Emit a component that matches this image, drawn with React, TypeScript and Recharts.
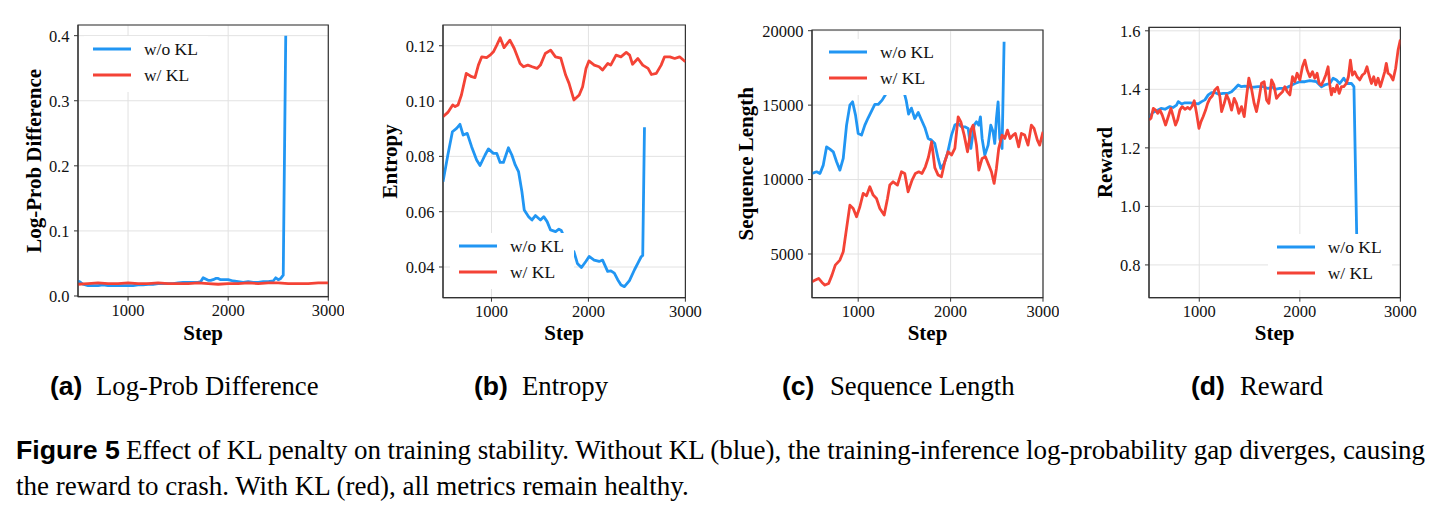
import React from 'react';
import {
  LineChart,
  Line,
  XAxis,
  YAxis,
  CartesianGrid,
  Legend,
  ReferenceArea,
  Label,
} from 'recharts';

const BLUE = '#2196F3';
const RED = '#F44336';
const SERIF = "'Liberation Serif', 'Times New Roman', serif";
const SANS = "'Liberation Sans', Arial, Helvetica, sans-serif";

const seriesNames = ['w/o KL', 'w/ KL'];
const stepTicks = [1000, 2000, 3000];
const stepLabel = 'Step';

// ---- (a) Log-Prob Difference ----
const lpdNoKlSteps = [500, 525, 550, 575, 600, 650, 700, 750, 800, 850, 900, 950, 1000, 1050, 1100, 1150, 1200, 1250, 1300, 1350, 1400, 1450, 1500, 1550, 1600, 1650, 1700, 1725, 1750, 1775, 1800, 1825, 1850, 1875, 1900, 1925, 1950, 2000, 2050, 2100, 2150, 2200, 2250, 2300, 2350, 2400, 2450, 2475, 2500, 2525, 2550, 2575];
const lpdNoKlValues = [0.023, 0.021, 0.018, 0.017, 0.016, 0.016, 0.016, 0.017, 0.016, 0.016, 0.016, 0.016, 0.016, 0.016, 0.017, 0.017, 0.018, 0.018, 0.019, 0.019, 0.019, 0.019, 0.020, 0.021, 0.021, 0.021, 0.021, 0.022, 0.028, 0.026, 0.024, 0.024, 0.025, 0.027, 0.027, 0.025, 0.025, 0.025, 0.023, 0.022, 0.021, 0.022, 0.021, 0.021, 0.022, 0.022, 0.023, 0.028, 0.025, 0.027, 0.032, 0.4];
const lpdKlSteps = [500, 600, 700, 800, 900, 1000, 1100, 1200, 1300, 1400, 1500, 1600, 1700, 1800, 1900, 2000, 2100, 2200, 2300, 2400, 2500, 2600, 2700, 2800, 2900, 3000];
const lpdKlValues = [0.018, 0.019, 0.020, 0.019, 0.019, 0.020, 0.019, 0.019, 0.020, 0.019, 0.019, 0.019, 0.020, 0.019, 0.018, 0.019, 0.019, 0.020, 0.019, 0.020, 0.020, 0.019, 0.019, 0.019, 0.020, 0.020];
const lpdTicks = [0, 0.1, 0.2, 0.3, 0.4];

// ---- (b) Entropy ----
const entNoKlSteps = [500, 550, 597, 640, 675, 708, 750, 795, 847, 882, 934, 968, 1020, 1054, 1089, 1123, 1175, 1210, 1245, 1279, 1314, 1338, 1383, 1418, 1453, 1505, 1539, 1574, 1609, 1661, 1695, 1720, 1760, 1800, 1830, 1851, 1886, 1928, 1973, 2007, 2059, 2111, 2146, 2198, 2232, 2267, 2302, 2336, 2371, 2423, 2475, 2509, 2544, 2560, 2578];
const entNoKlValues = [0.0708, 0.0805, 0.0889, 0.0901, 0.0916, 0.0877, 0.0883, 0.0835, 0.0787, 0.0767, 0.0805, 0.0827, 0.0811, 0.0811, 0.0778, 0.0778, 0.0831, 0.0805, 0.0769, 0.0745, 0.0672, 0.0606, 0.0582, 0.057, 0.0586, 0.057, 0.0582, 0.0564, 0.0534, 0.0528, 0.0537, 0.0532, 0.050, 0.048, 0.046, 0.0455, 0.0413, 0.0398, 0.042, 0.0438, 0.0425, 0.042, 0.0425, 0.0384, 0.0386, 0.0378, 0.0354, 0.0335, 0.0329, 0.0351, 0.039, 0.0413, 0.0437, 0.0442, 0.0905];
const entKlSteps = [500, 550, 600, 625, 655, 690, 740, 795, 830, 865, 900, 950, 985, 1020, 1055, 1090, 1130, 1190, 1235, 1295, 1330, 1375, 1420, 1470, 1505, 1555, 1610, 1660, 1715, 1765, 1800, 1850, 1905, 1940, 1975, 2005, 2060, 2110, 2145, 2200, 2230, 2285, 2335, 2390, 2425, 2455, 2510, 2560, 2615, 2650, 2700, 2750, 2785, 2840, 2890, 2940, 3000];
const entKlValues = [0.0943, 0.0959, 0.0986, 0.098, 0.0986, 0.1022, 0.110, 0.1088, 0.1085, 0.113, 0.116, 0.1157, 0.1166, 0.1178, 0.1202, 0.1229, 0.1193, 0.122, 0.119, 0.1136, 0.1124, 0.113, 0.1124, 0.1118, 0.113, 0.1172, 0.1184, 0.116, 0.1155, 0.1094, 0.1064, 0.1004, 0.1022, 0.1052, 0.1118, 0.1145, 0.113, 0.1124, 0.1112, 0.1136, 0.113, 0.1166, 0.116, 0.1176, 0.1166, 0.1133, 0.1154, 0.113, 0.1118, 0.1096, 0.110, 0.113, 0.116, 0.116, 0.1154, 0.116, 0.1142];
const entTicks = [0.04, 0.06, 0.08, 0.1, 0.12];

// ---- (c) Sequence Length ----
const lenNoKlSteps = [500, 550, 586, 622, 658, 694, 730, 766, 802, 838, 874, 910, 939, 971, 1000, 1036, 1072, 1108, 1144, 1180, 1216, 1259, 1288, 1330, 1380, 1420, 1460, 1495, 1520, 1545, 1576, 1612, 1650, 1685, 1721, 1757, 1793, 1829, 1865, 1894, 1930, 1966, 2010, 2046, 2082, 2118, 2154, 2190, 2219, 2255, 2280, 2305, 2323, 2341, 2370, 2406, 2435, 2460, 2478, 2496, 2514, 2532, 2557, 2579];
const lenNoKlValues = [10410, 10522, 10410, 10970, 12200, 12045, 11865, 11200, 10634, 11418, 13657, 15000, 15224, 14328, 13097, 12985, 13657, 14150, 14597, 15045, 15045, 15336, 15627, 16100, 16500, 16400, 16300, 15900, 15300, 14400, 14800, 14100, 14500, 14000, 13500, 12761, 12649, 12425, 11418, 10746, 11082, 11753, 12985, 13657, 13769, 13545, 13545, 13433, 12089, 13657, 13880, 13657, 14216, 12761, 11642, 12313, 13657, 13209, 12425, 14104, 15224, 12761, 12089, 19254];
const lenKlSteps = [500, 536, 572, 608, 640, 680, 716, 752, 802, 838, 874, 910, 946, 982, 1018, 1054, 1090, 1126, 1162, 1198, 1234, 1281, 1317, 1342, 1378, 1425, 1468, 1504, 1540, 1583, 1619, 1655, 1691, 1727, 1760, 1795, 1829, 1865, 1901, 1937, 1973, 2010, 2046, 2082, 2111, 2147, 2183, 2219, 2244, 2280, 2305, 2341, 2377, 2413, 2442, 2471, 2496, 2521, 2557, 2586, 2615, 2644, 2676, 2701, 2737, 2766, 2802, 2838, 2874, 2903, 2939, 2964, 3000];
const lenKlValues = [3134, 3246, 3358, 3090, 2910, 3022, 3581, 4254, 4590, 5150, 6717, 8283, 8059, 7500, 8171, 9067, 8910, 9515, 8955, 8731, 8059, 7612, 8731, 9627, 9850, 9627, 10522, 10410, 9179, 9962, 10410, 10522, 10410, 10858, 11500, 12537, 10800, 10298, 10186, 11194, 11865, 11642, 12089, 14216, 13880, 12985, 11865, 13321, 13657, 12313, 10634, 11418, 11530, 10970, 10522, 9739, 10746, 12089, 12985, 12761, 13321, 12761, 12985, 13097, 12201, 13097, 12985, 12313, 13657, 13433, 12649, 12313, 13209];
const lenTicks = [5000, 10000, 15000, 20000];

// ---- (d) Reward ----
const rewNoKlSteps = [500, 533, 576, 619, 659, 708, 741, 774, 791, 824, 857, 907, 956, 990, 1023, 1056, 1089, 1122, 1155, 1188, 1238, 1281, 1321, 1354, 1387, 1420, 1453, 1519, 1586, 1635, 1685, 1735, 1752, 1801, 1851, 1901, 1950, 2000, 2050, 2099, 2165, 2215, 2248, 2298, 2331, 2364, 2397, 2437, 2470, 2513, 2538, 2575];
const rewNoKlValues = [1.297, 1.32, 1.327, 1.335, 1.332, 1.341, 1.338, 1.346, 1.358, 1.35, 1.354, 1.354, 1.352, 1.35, 1.358, 1.364, 1.381, 1.389, 1.389, 1.384, 1.386, 1.386, 1.392, 1.403, 1.415, 1.409, 1.411, 1.407, 1.409, 1.409, 1.403, 1.408, 1.4, 1.403, 1.403, 1.411, 1.42, 1.426, 1.426, 1.43, 1.426, 1.409, 1.415, 1.42, 1.438, 1.432, 1.42, 1.438, 1.42, 1.42, 1.409, 0.73];
const rewKlSteps = [500, 520, 543, 566, 586, 609, 632, 665, 692, 718, 741, 764, 784, 807, 830, 857, 884, 907, 930, 950, 973, 997, 1016, 1039, 1063, 1083, 1106, 1129, 1155, 1182, 1205, 1222, 1248, 1271, 1294, 1321, 1347, 1370, 1394, 1420, 1447, 1470, 1493, 1519, 1546, 1569, 1592, 1619, 1645, 1669, 1692, 1719, 1742, 1768, 1795, 1828, 1851, 1874, 1901, 1927, 1950, 1973, 2000, 2026, 2050, 2073, 2099, 2126, 2149, 2172, 2192, 2215, 2238, 2258, 2281, 2298, 2314, 2331, 2348, 2371, 2391, 2414, 2437, 2463, 2483, 2503, 2523, 2546, 2569, 2596, 2622, 2645, 2668, 2688, 2712, 2735, 2755, 2778, 2801, 2821, 2844, 2860, 2877, 2900, 2927, 2953, 2977, 3000];
const rewKlValues = [1.295, 1.301, 1.335, 1.329, 1.318, 1.329, 1.312, 1.278, 1.307, 1.335, 1.307, 1.278, 1.295, 1.329, 1.341, 1.332, 1.338, 1.332, 1.343, 1.361, 1.318, 1.267, 1.289, 1.307, 1.329, 1.352, 1.369, 1.377, 1.398, 1.407, 1.375, 1.324, 1.352, 1.381, 1.364, 1.329, 1.369, 1.352, 1.318, 1.341, 1.307, 1.375, 1.438, 1.403, 1.352, 1.324, 1.364, 1.421, 1.426, 1.364, 1.352, 1.432, 1.415, 1.369, 1.381, 1.392, 1.409, 1.392, 1.381, 1.443, 1.426, 1.455, 1.432, 1.477, 1.5, 1.466, 1.443, 1.46, 1.438, 1.455, 1.42, 1.415, 1.432, 1.449, 1.477, 1.415, 1.381, 1.403, 1.392, 1.415, 1.386, 1.409, 1.409, 1.42, 1.443, 1.5, 1.449, 1.46, 1.443, 1.432, 1.449, 1.455, 1.477, 1.449, 1.42, 1.443, 1.415, 1.438, 1.409, 1.432, 1.46, 1.489, 1.455, 1.449, 1.432, 1.472, 1.534, 1.57];
const rewTicks = [0.8, 1.0, 1.2, 1.4, 1.6];

const subCaptions = [
  { tag: '(a)', text: 'Log-Prob Difference', tagX: 50, textX: 96 },
  { tag: '(b)', text: 'Entropy', tagX: 474, textX: 522 },
  { tag: '(c)', text: 'Sequence Length', tagX: 782, textX: 830 },
  { tag: '(d)', text: 'Reward', tagX: 1191, textX: 1240 },
];
const figureTag = 'Figure 5';
const figureLine1 = 'Effect of KL penalty on training stability. Without KL (blue), the training-inference log-probability gap diverges, causing';
const figureLine2 = 'the reward to crash. With KL (red), all metrics remain healthy.';

type SeriesCfg = { name: string; color: string; steps: number[]; values: number[] };
type PanelCfg = {
  plotLeft: number;
  plotRight: number;
  plotTop: number;
  plotBottom: number;
  yDomain: [number, number];
  yTicks: number[];
  yFormat: (v: number) => string;
  yLabel: string;
  yLabelX: number;
  legendRow: number;
  legendX: number;
  series: SeriesCfg[];
};

const pts = (steps: number[], values: number[]) =>
  steps.map((step, i) => ({ step, v: values[i] }));

const pair = (noKlSteps: number[], noKlValues: number[], klSteps: number[], klValues: number[]): SeriesCfg[] => [
  { name: seriesNames[0], color: BLUE, steps: noKlSteps, values: noKlValues },
  { name: seriesNames[1], color: RED, steps: klSteps, values: klValues },
];

const panels: PanelCfg[] = [
  {
    plotLeft: 77.7, plotRight: 328, plotTop: 25, plotBottom: 296.7,
    yDomain: [-0.0011, 0.4164], yTicks: lpdTicks, yFormat: (v) => v.toFixed(1),
    yLabel: 'Log-Prob Difference', yLabelX: 40.5,
    legendRow: 48.7, legendX: 93,
    series: pair(lpdNoKlSteps, lpdNoKlValues, lpdKlSteps, lpdKlValues),
  },
  {
    plotLeft: 443.3, plotRight: 685.7, plotTop: 25, plotBottom: 297.7,
    yDomain: [0.0289, 0.1275], yTicks: entTicks, yFormat: (v) => v.toFixed(2),
    yLabel: 'Entropy', yLabelX: 397.5,
    legendRow: 245.7, legendX: 459,
    series: pair(entNoKlSteps, entNoKlValues, entKlSteps, entKlValues),
  },
  {
    plotLeft: 812.3, plotRight: 1043.3, plotTop: 30, plotBottom: 297.7,
    yDomain: [2064, 20047], yTicks: lenTicks, yFormat: (v) => String(v),
    yLabel: 'Sequence Length', yLabelX: 753.5,
    legendRow: 52.3, legendX: 829,
    series: pair(lenNoKlSteps, lenNoKlValues, lenKlSteps, lenKlValues),
  },
  {
    plotLeft: 1149.3, plotRight: 1400.7, plotTop: 27.3, plotBottom: 297.7,
    yDomain: [0.688, 1.612], yTicks: rewTicks, yFormat: (v) => v.toFixed(1),
    yLabel: 'Reward', yLabelX: 1112.5,
    legendRow: 246.7, legendX: 1276.7,
    series: pair(rewNoKlSteps, rewNoKlValues, rewKlSteps, rewKlValues),
  },
];

const AXIS_W = 77;
const RIGHT_PAD = 16;
const XAXIS_H = 50;
const BOTTOM_PAD = 5;

function LegendBox({ series }: { series: SeriesCfg[] }) {
  return (
    <div style={{ background: '#fff', padding: '0 9px 4px 9px', boxSizing: 'border-box', width: 124, height: 56 }}>
      {series.map((s) => (
        <div key={s.name} style={{ display: 'flex', alignItems: 'center', height: 26 }}>
          <svg width={38} height={6} style={{ display: 'block' }}>
            <line x1={0} y1={3} x2={38} y2={3} stroke={s.color} strokeWidth={2.9} />
          </svg>
          <span style={{ marginLeft: 13, fontFamily: SERIF, fontSize: 17.5, color: '#111', lineHeight: '20px', whiteSpace: 'nowrap' }}>
            {s.name}
          </span>
        </div>
      ))}
    </div>
  );
}

function Panel({ cfg }: { cfg: PanelCfg }) {
  const chartLeft = cfg.plotLeft - AXIS_W;
  const plotW = cfg.plotRight - cfg.plotLeft;
  const width = AXIS_W + plotW + RIGHT_PAD;
  const height = cfg.plotBottom + XAXIS_H + BOTTOM_PAD;
  const midX = AXIS_W + plotW / 2;
  const midY = (cfg.plotTop + cfg.plotBottom) / 2;
  const yLabX = cfg.yLabelX - chartLeft;
  const tickStyle = { fill: '#111', fontSize: 16.5, fontFamily: SERIF };
  return (
    <div style={{ position: 'absolute', left: chartLeft, top: 0 }}>
      <LineChart
        width={width}
        height={height}
        margin={{ top: cfg.plotTop, right: RIGHT_PAD, bottom: BOTTOM_PAD, left: 0 }}
      >
        <CartesianGrid stroke="#e2e2e2" strokeWidth={1} />
        <XAxis
          dataKey="step"
          type="number"
          domain={[500, 3000]}
          ticks={stepTicks}
          interval={0}
          allowDataOverflow
          height={XAXIS_H}
          tickSize={4}
          tickMargin={3.5}
          stroke="#333"
          tick={tickStyle}
        >
          <Label
            content={() => (
              <text x={midX} y={340} textAnchor="middle" fontFamily={SERIF} fontWeight="bold" fontSize={21} fill="#000">
                {stepLabel}
              </text>
            )}
          />
        </XAxis>
        <YAxis
          type="number"
          domain={cfg.yDomain}
          ticks={cfg.yTicks}
          interval={0}
          allowDataOverflow
          width={AXIS_W}
          tickSize={4}
          tickMargin={4.5}
          stroke="#333"
          tick={tickStyle}
          tickFormatter={cfg.yFormat}
        >
          <Label
            content={() => (
              <text
                x={yLabX}
                y={midY}
                transform={`rotate(-90 ${yLabX} ${midY})`}
                textAnchor="middle"
                fontFamily={SERIF}
                fontWeight="bold"
                fontSize={21}
                fill="#000"
              >
                {cfg.yLabel}
              </text>
            )}
          />
        </YAxis>
        {cfg.series.map((s) => (
          <Line
            key={s.name}
            data={pts(s.steps, s.values)}
            dataKey="v"
            name={s.name}
            type="linear"
            stroke={s.color}
            strokeWidth={2.8}
            strokeLinejoin="round"
            dot={false}
            activeDot={false}
            isAnimationActive={false}
          />
        ))}
        <ReferenceArea
          x1={500}
          x2={3000}
          y1={cfg.yDomain[0]}
          y2={cfg.yDomain[1]}
          fill="none"
          fillOpacity={0}
          stroke="#333"
          strokeWidth={1.2}
          ifOverflow="visible"
        />
        <Legend
          layout="vertical"
          align="center"
          verticalAlign="middle"
          content={() => <LegendBox series={cfg.series} />}
          wrapperStyle={{ left: cfg.legendX - 9 - chartLeft, top: cfg.legendRow - 13, width: 124, height: 56 }}
        />
      </LineChart>
    </div>
  );
}

export default function App() {
  return (
    <div style={{ position: 'absolute', left: 0, top: 0, width: 1442, height: 514, background: '#fff', overflow: 'hidden' }}>
      <svg width={1442} height={514} style={{ position: 'absolute', left: 0, top: 0 }}>
        {subCaptions.map((c) => (
          <g key={c.tag}>
            <text x={c.tagX} y={395} fontFamily={SANS} fontWeight="bold" fontSize={26.5} fill="#000">
              {c.tag}
            </text>
            <text x={c.textX} y={395} fontFamily={SERIF} fontSize={26.7} fill="#000">
              {c.text}
            </text>
          </g>
        ))}
        <text x={16} y={459} fontFamily={SANS} fontWeight="bold" fontSize={26.7} fill="#000">
          {figureTag}
        </text>
        <text x={126} y={459} fontFamily={SERIF} fontSize={27} fill="#000" textLength={1299} lengthAdjust="spacing">
          {figureLine1}
        </text>
        <text x={16} y={495} fontFamily={SERIF} fontSize={27} fill="#000">
          {figureLine2}
        </text>
      </svg>
      {panels.map((p, i) => (
        <Panel key={i} cfg={p} />
      ))}
    </div>
  );
}
